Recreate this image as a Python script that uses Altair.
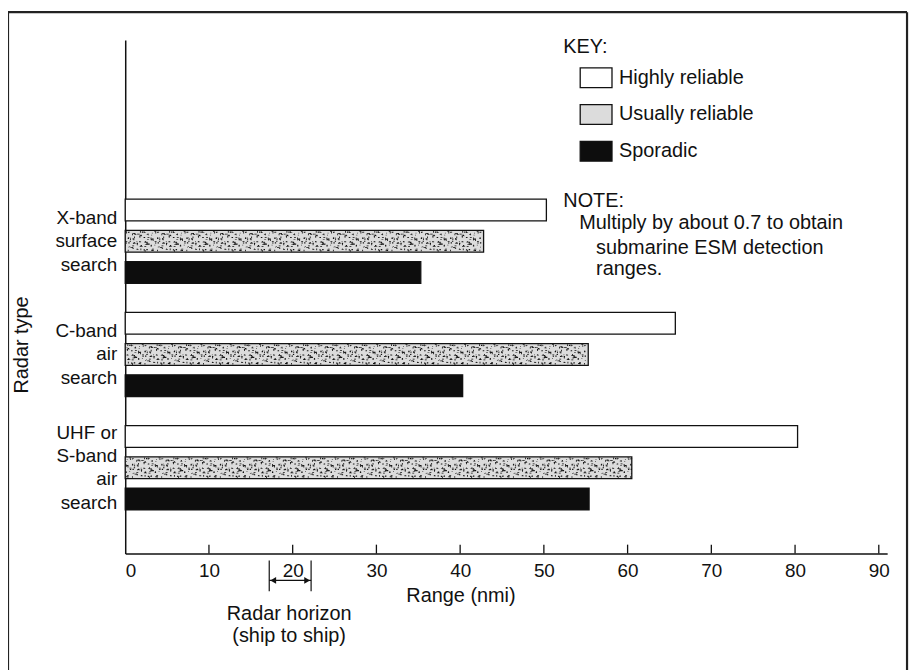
import altair as alt
import pandas as pd

# ---------------- data ----------------
categories = ["X-band surface search", "C-band air search", "UHF or S-band air search"]
label_lines = [["X-band", "surface", "search"],
               ["C-band", "air", "search"],
               ["UHF or", "S-band", "air", "search"]]
series = ["Highly reliable", "Usually reliable", "Sporadic"]
highly = [50.3, 65.7, 80.3]
usually = [42.8, 55.3, 60.5]
sporadic = [35.3, 40.3, 55.4]
x_ticks = [0, 10, 20, 30, 40, 50, 60, 70, 80, 90]
horizon = [17.2, 22.2]   # radar horizon (ship to ship), nmi

rows = []
for c, h, u, s in zip(categories, highly, usually, sporadic):
    for name, v in zip(series, [h, u, s]):
        rows.append({"radar": c, "reliability": name, "range": v})
df = pd.DataFrame(rows)

# stipple tiles for the "Usually reliable" bars (half-nmi tiles)
N_VAR = 7
tiles = []
for ci, (c, u) in enumerate(zip(categories, usually)):
    for k in range(int(u * 2)):
        tiles.append({"radar": c, "reliability": series[1], "pos": (k + 0.5) / 2,
                      "variant": (k * 3 + ci * 2) % N_VAR})
tiles_df = pd.DataFrame(tiles)

ticks_df = pd.DataFrame({"t": x_ticks[1:]})
hz_df = pd.DataFrame({"start": [horizon[0]], "end": [horizon[1]]})
hz_pts = pd.DataFrame({"x": horizon, "dir": ["left", "right"]})

# ---------------- style ----------------
FONT = "Liberation Sans, Arial, Helvetica, sans-serif"
W, H = 767, 517
INK = "#111111"
LH = 23.5


def speck_path(seed):
    parts = []
    for j in range(12):
        a = ((seed * 131 + j * 71 + j * j * 17) % 97) / 96.0
        b = ((seed * 53 + j * 29 + j * j * 43) % 89) / 88.0
        x = -0.19 + a * 0.32
        y = -0.86 + b * 1.62
        kind = (seed * 5 + j * 7) % 4
        if kind == 0:
            w, hh = 0.16, 0.06
        elif kind == 1:
            w, hh = 0.07, 0.14
        elif kind == 2:
            w, hh = 0.11, 0.10
        else:
            w, hh = 0.06, 0.06
        parts.append(f"M{x:.3f},{y:.3f}h{w:.3f}v{hh:.3f}h{-w:.3f}z")
    return "".join(parts)


speck_shapes = [speck_path(i) for i in range(N_VAR)]

x_scale = alt.Scale(domain=[0, 91], nice=False, zero=True)
y_scale = alt.Scale(domain=categories, paddingInner=0.228, paddingOuter=0.8816, align=0.789)

y_enc = alt.Y(
    "radar:N", sort=categories, scale=y_scale,
    axis=alt.Axis(title=None, ticks=False, grid=False, labels=False,
                  domainColor=INK, domainWidth=1.5),
)
yoff_enc = alt.YOffset(
    "reliability:N", sort=series,
    scale=alt.Scale(domain=series, paddingInner=0.3, paddingOuter=0.05),
)

bars = alt.Chart(df).mark_bar(stroke=INK, strokeWidth=1.3).encode(
    x=alt.X(
        "range:Q", scale=x_scale,
        axis=alt.Axis(
            values=x_ticks, tickSize=0, grid=False, title=None, domainColor=INK,
            domainWidth=1.5, labelFont=FONT, labelFontSize=19, labelColor=INK,
            labelPadding=8, format="d",
        ),
    ),
    y=y_enc,
    yOffset=yoff_enc,
    fill=alt.Fill(
        "reliability:N",
        scale=alt.Scale(domain=series, range=["#ffffff", "#dcdcdc", "#0d0d0d"]),
        legend=alt.Legend(
            orient="none", legendX=457, legendY=21, title=None, padding=0,
            symbolType="M-1,-0.62H1V0.62H-1Z", symbolSize=1024,
            symbolStrokeColor=INK, symbolStrokeWidth=1.3, symbolOpacity=1,
            labelFont=FONT, labelFontSize=20, labelColor=INK, labelOffset=6,
            rowPadding=7, labelLimit=300,
        ),
    ),
)

stipple = alt.Chart(tiles_df).mark_point(filled=True, size=576, opacity=1, strokeWidth=0, color=INK).encode(
    x=alt.X("pos:Q", scale=x_scale),
    y=alt.Y("radar:N", sort=categories),
    yOffset=alt.YOffset("reliability:N", sort=series),
    shape=alt.Shape("variant:N", scale=alt.Scale(domain=list(range(N_VAR)), range=speck_shapes), legend=None),
)

# category labels (multi-line, centred on each group)
cat_labels = []
for c, lines in zip(categories, label_lines):
    d = pd.DataFrame({"radar": [c], "txt": [lines]})
    cat_labels.append(
        alt.Chart(d).mark_text(
            align="right", baseline="middle", font=FONT, fontSize=19, color=INK,
            lineHeight=LH, dy=-(len(lines) - 1) * LH / 2,
        ).encode(x=alt.value(-8), y=alt.Y("radar:N", sort=categories), text="txt")
    )

tick_marks = alt.Chart(ticks_df).mark_rule(color=INK, strokeWidth=1.3).encode(
    x=alt.X("t:Q", scale=x_scale),
    y=alt.value(H - 9),
    y2=alt.value(H),
)

hz_lines = alt.Chart(pd.DataFrame({"x": horizon})).mark_rule(color=INK, strokeWidth=1.2).encode(
    x=alt.X("x:Q", scale=x_scale), y=alt.value(H + 7), y2=alt.value(H + 38),
)
hz_arrow = alt.Chart(hz_df).mark_rule(color=INK, strokeWidth=1.2).encode(
    x=alt.X("start:Q", scale=x_scale), x2="end:Q", y=alt.value(H + 27),
)
hz_left = alt.Chart(hz_pts[hz_pts["dir"] == "left"]).mark_point(
    shape="triangle-left", filled=True, size=45, opacity=1, color=INK, xOffset=4
).encode(x=alt.X("x:Q", scale=x_scale), y=alt.value(H + 27))
hz_right = alt.Chart(hz_pts[hz_pts["dir"] == "right"]).mark_point(
    shape="triangle-right", filled=True, size=45, opacity=1, color=INK, xOffset=-4
).encode(x=alt.X("x:Q", scale=x_scale), y=alt.value(H + 27))


def label(text, x, y, size=20, align="left", angle=0, line_height=None):
    kw = dict(text=text, align=align, baseline="middle", font=FONT, fontSize=size, color=INK)
    if angle:
        kw["angle"] = angle
    if line_height:
        kw["lineHeight"] = line_height
    return alt.Chart(pd.DataFrame({"a": [0]})).mark_text(**kw).encode(x=alt.value(x), y=alt.value(y))


texts = [
    label("KEY:", 441, 7),
    label("NOTE:", 441, 162),
    label("Multiply by about 0.7 to obtain", 457, 184),
    label(["submarine ESM detection", "ranges."], 474, 209, line_height=22),
    label("Radar type", -104, 307, size=20, align="center", angle=270),
    label("Range (nmi)", 338, 560, align="center"),
    label(["Radar horizon", "(ship to ship)"], 165, 578, align="center", line_height=22),
]

frame = [
    alt.Chart(pd.DataFrame({"a": [0]})).mark_rule(color="#222222", strokeWidth=2.2).encode(
        x=alt.value(-118), x2=alt.value(787), y=alt.value(-28)),
    alt.Chart(pd.DataFrame({"a": [0]})).mark_rule(color="#222222", strokeWidth=2.2).encode(
        x=alt.value(-118), y=alt.value(-28), y2=alt.value(640)),
    alt.Chart(pd.DataFrame({"a": [0]})).mark_rule(color="#222222", strokeWidth=2.2).encode(
        x=alt.value(787), y=alt.value(-28), y2=alt.value(640)),
]

chart = alt.layer(
    bars, stipple, *cat_labels, tick_marks, hz_lines, hz_arrow, hz_left, hz_right, *texts, *frame
).properties(
    width=W, height=H,
    padding={"left": 118, "top": 30, "right": 25, "bottom": 120},
    autosize=alt.AutoSizeParams(type="none"),
    background="white",
).configure_view(strokeWidth=0)

chart.save("out.html", embed_options={"renderer": "svg", "actions": False})
